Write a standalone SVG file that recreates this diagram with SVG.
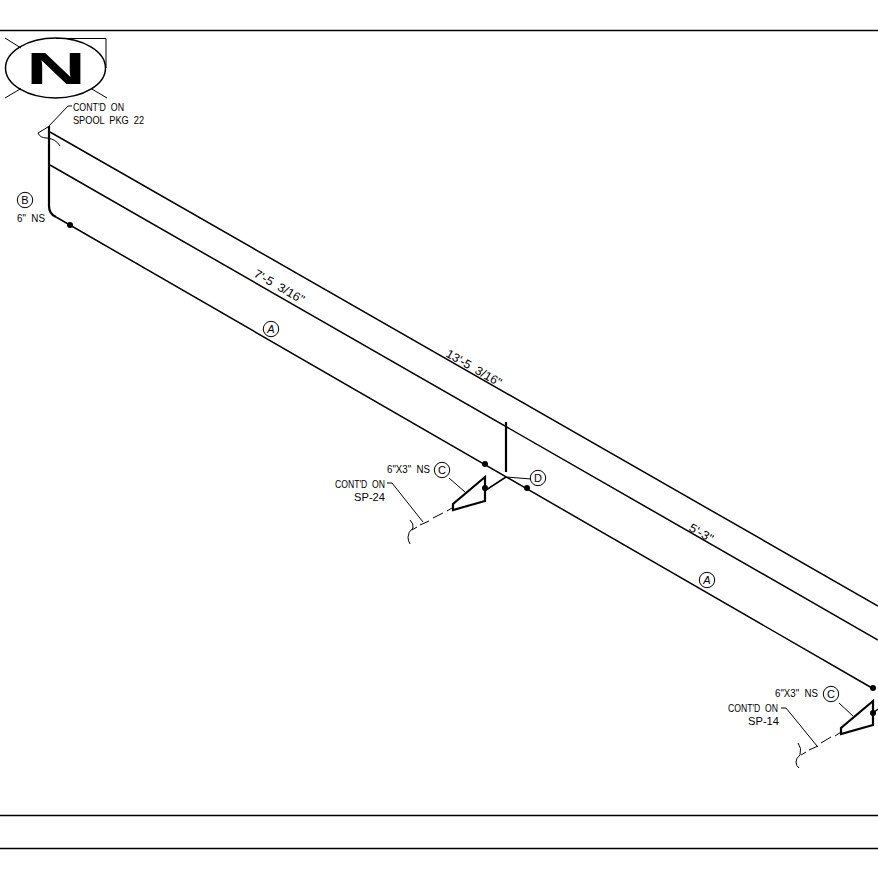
<svg xmlns="http://www.w3.org/2000/svg" width="878" height="878" viewBox="0 0 878 878">
<style>
.l{fill:none;stroke:#000;stroke-width:1.5}
.t{fill:none;stroke:#000;stroke-width:2.2}
.f{fill:none;stroke:#000;stroke-width:1}
.c{fill:#fff;stroke:#000;stroke-width:1}
.d{fill:#000}
text{font-family:"Liberation Sans",Arial,sans-serif;font-size:11px;fill:#000;word-spacing:3px}
.m{text-anchor:middle}
</style>
<rect width="878" height="878" fill="#fff"/>
<g id="frame">
<path class="l" d="M0 30.500H878M0 815.500H878M0 848.500H878"/>
</g>
<g id="north">
<ellipse class="l" cx="55.500" cy="68" rx="50" ry="30"/>
<path class="f" d="M56 38.500H106V68M5 38L21 48M5 98L21 88.500M107 98L91 88.500"/>
<text x="26" y="84" font-weight="bold" textLength="60" lengthAdjust="spacingAndGlyphs" style="font-size:45px">N</text>
</g>
<g id="connectors">
<path class="l" d="M50 132L878 606M50 165L878 640M56 217L872 688"/>
<path class="t" d="M49 126V206Q49 214 56 217"/>
<path class="f" d="M72 106H68L48 127L38 133Q40 138 47 138Q56 139 60 146"/>
<path class="t" d="M506 422V472"/>
<path class="l" d="M506 477L486 490"/>
<path class="f" d="M506 477L531 479"/>
<path class="t" d="M485 477V501L453 510L453 504Z"/>
<path class="f" d="M452 508L447 511M443 513L433 518M429 521L420 525M417 527L412 530M410 520Q414 524 413 528Q408 532 408 537Q408 541 410 544M423 522L392 483H387M465 492L449 478"/>
<path class="t" d="M873 701V725L841 734L841 728Z"/>
<path class="l" d="M873 713L878 709"/>
<path class="f" d="M841 732L835 736M831 737L821 743M818 746L809 750M806 752L801 755M798 743Q802 748 800 755Q796 758 796 762Q796 766 799 768M817 746L786 708H781M853 716L839 703"/>
</g>
<g id="junctions">
<circle class="d" cx="70" cy="225" r="3"/>
<circle class="d" cx="485" cy="464" r="3"/>
<circle class="d" cx="527" cy="488" r="3"/>
<circle class="d" cx="485" cy="488" r="3"/>
<circle class="d" cx="873" cy="688" r="3"/>
<circle class="d" cx="873" cy="713" r="3"/>
</g>
<g id="tag-b"><circle class="c" cx="25" cy="200" r="7.700"/><text class="m" x="25" y="204">B</text></g>
<g id="tag-a1"><circle class="c" cx="271" cy="329" r="7.700"/><text class="m" x="271" y="333" font-style="italic">A</text></g>
<g id="tag-a2"><circle class="c" cx="707" cy="580" r="7.700"/><text class="m" x="707" y="584" font-style="italic">A</text></g>
<g id="tag-c1"><circle class="c" cx="442" cy="470" r="7.700"/><text class="m" x="442" y="474">C</text></g>
<g id="tag-d"><circle class="c" cx="538" cy="478" r="7.700"/><text class="m" x="538" y="482">D</text></g>
<g id="tag-c2"><circle class="c" cx="831" cy="694" r="7.700"/><text class="m" x="831" y="698">C</text></g>
<g id="labels">
<text x="73" y="111" textLength="51" lengthAdjust="spacingAndGlyphs">CONT'D ON</text>
<text x="73" y="124" textLength="71" lengthAdjust="spacingAndGlyphs">SPOOL PKG 22</text>
<text x="17" y="222" textLength="28" lengthAdjust="spacingAndGlyphs">6" NS</text>
<text x="387" y="473" textLength="43" lengthAdjust="spacingAndGlyphs">6"X3" NS</text>
<text x="335" y="488" textLength="50" lengthAdjust="spacingAndGlyphs">CONT'D ON</text>
<text x="354" y="501" textLength="31" lengthAdjust="spacingAndGlyphs">SP-24</text>
<text x="775" y="697" textLength="43" lengthAdjust="spacingAndGlyphs">6"X3" NS</text>
<text x="728" y="712" textLength="50" lengthAdjust="spacingAndGlyphs">CONT'D ON</text>
<text x="748" y="725" textLength="31" lengthAdjust="spacingAndGlyphs">SP-14</text>
<text transform="translate(253 276) rotate(30)" textLength="56" lengthAdjust="spacingAndGlyphs" style="font-size:12px">7'-5 3/16"</text>
<text transform="translate(445 356) rotate(30)" textLength="62" lengthAdjust="spacingAndGlyphs" style="font-size:12px">13'-5 3/16"</text>
<text transform="translate(688 530) rotate(30)" textLength="26" lengthAdjust="spacingAndGlyphs" style="font-size:12px">5'-3"</text>
</g>
</svg>
